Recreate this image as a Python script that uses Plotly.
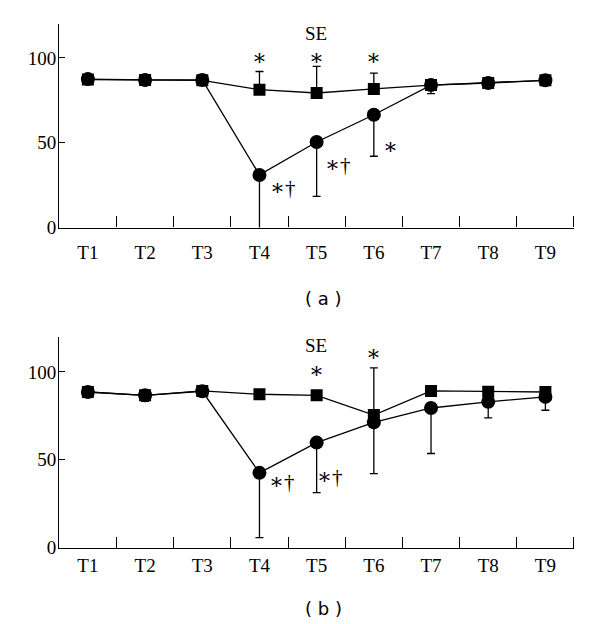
import plotly.graph_objects as go

# ---------------- data ----------------
categories = ["T1", "T2", "T3", "T4", "T5", "T6", "T7", "T8", "T9"]
xpos = [1, 2, 3, 4, 5, 6, 7, 8, 9]

# panel (a)
a_square = [87.2, 87.0, 86.8, 81.3, 79.3, 81.7, 84.0, 85.2, 86.8]
a_square_err_up = [0, 0, 0, 10.7, 15.7, 9.3, 0, 0, 0]
a_circle = [87.5, 87.0, 87.0, 31.0, 50.4, 66.5, 84.0, 85.2, 86.8]
a_circle_err_down = [0, 3.0, 0, 35.3, 32.1, 24.5, 5.0, 0, 0]

# panel (b)
b_square = [88.6, 86.7, 89.2, 87.3, 86.7, 75.5, 89.2, 88.8, 88.6]
b_square_err_up = [0, 0, 0, 0, 0, 26.8, 0, 0, 0]
b_circle = [88.6, 86.7, 89.0, 42.6, 59.8, 71.3, 79.5, 83.0, 85.8]
b_circle_err_down = [0, 3.4, 0, 36.9, 28.5, 29.2, 25.9, 9.1, 7.6]

# significance marks: (x, y, dagger?)
a_marks_x = [4, 5, 6, 4.40, 5.36, 6.30]
a_marks_y = [100, 100, 100, 23.5, 37.0, 47.8]
a_marks_dagger = [False, False, False, True, True, False]
b_marks_x = [5, 6, 4.38, 5.22]
b_marks_y = [100.6, 110.4, 37.6, 40.4]
b_marks_dagger = [False, False, True, True]

y_ticks = [0, 50, 100]
minor_ticks = [1.5, 2.5, 3.5, 4.5, 5.5, 6.5, 7.5, 8.5, 9.5]

SERIF = "Liberation Serif"
LW = 1.3

fig = go.Figure()


def add_panel(xa, ya, sq, sq_up, ci, ci_dn):
    fig.add_trace(go.Scatter(
        x=xpos, y=sq, mode="lines+markers", xaxis=xa, yaxis=ya,
        line=dict(color="black", width=LW),
        marker=dict(symbol="square", size=12, color="black"),
        error_y=dict(type="data", symmetric=False, array=sq_up,
                     arrayminus=[0] * len(sq), color="black",
                     thickness=LW, width=4),
        showlegend=False, hoverinfo="skip"))
    fig.add_trace(go.Scatter(
        x=xpos, y=ci, mode="lines+markers", xaxis=xa, yaxis=ya,
        line=dict(color="black", width=LW),
        marker=dict(symbol="circle", size=14, color="black"),
        error_y=dict(type="data", symmetric=False, array=[0] * len(ci),
                     arrayminus=ci_dn, color="black",
                     thickness=LW, width=4),
        showlegend=False, hoverinfo="skip"))


add_panel("x", "y", a_square, a_square_err_up, a_circle, a_circle_err_down)
add_panel("x2", "y2", b_square, b_square_err_up, b_circle, b_circle_err_down)

STAR = "<span style='font-family:DejaVu Serif;font-size:22px'>∗</span>"
for xs, ys, ds, xr, yr in [(a_marks_x, a_marks_y, a_marks_dagger, "x", "y"),
                           (b_marks_x, b_marks_y, b_marks_dagger, "x2", "y2")]:
    for x, y, d in zip(xs, ys, ds):
        fig.add_annotation(x=x, y=y, xref=xr, yref=yr,
                           text=STAR + ("†" if d else ""),
                           showarrow=False, xanchor="center",
                           yanchor="middle",
                           font=dict(family=SERIF, size=21, color="black"))

XD = [59.3 / 600, 574 / 600]


def xaxis_cfg(anchor, standoff):
    return dict(
        domain=XD, anchor=anchor, range=[0.5, 9.5001], automargin=False,
        tickmode="array", tickvals=xpos, ticktext=categories, ticks="",
        tickfont=dict(family=SERIF, size=19, color="black"),
        ticklabelstandoff=standoff,
        showline=True, linecolor="black", linewidth=LW,
        showgrid=False, zeroline=False,
        minor=dict(tickmode="array", tickvals=minor_ticks, ticks="inside",
                   ticklen=11, tickwidth=LW, tickcolor="black",
                   showgrid=False),
    )


def yaxis_cfg(anchor, domain):
    return dict(
        domain=domain, anchor=anchor, range=[0, 120], automargin=False,
        tickmode="array", tickvals=y_ticks, ticks="inside", ticklen=6,
        tickwidth=LW, tickcolor="black",
        tickfont=dict(family=SERIF, size=19, color="black"),
        ticklabelstandoff=-2,
        showline=True, linecolor="black", linewidth=LW,
        showgrid=False, zeroline=False,
    )


fig.update_layout(
    width=600, height=624,
    margin=dict(l=0, r=0, t=0, b=0, autoexpand=False),
    paper_bgcolor="white", plot_bgcolor="white",
    xaxis=xaxis_cfg("y", 8),
    yaxis=yaxis_cfg("x", [1 - 227.5 / 624, 1 - 24 / 624]),
    xaxis2=xaxis_cfg("y2", 0),
    yaxis2=yaxis_cfg("x2", [1 - 547.7 / 624, 1 - 336.8 / 624]),
)

# panel titles and captions
for y_px, txt in [(33.3, "SE"), (345, "SE")]:
    fig.add_annotation(x=316 / 600, y=1 - y_px / 624, xref="paper",
                       yref="paper", text=txt, showarrow=False,
                       xanchor="center", yanchor="middle",
                       font=dict(family=SERIF, size=19, color="black"))
for y_px, txt in [(298, "( a )"), (608, "( b )")]:
    fig.add_annotation(x=323 / 600, y=1 - y_px / 624, xref="paper",
                       yref="paper", text=txt, showarrow=False,
                       xanchor="center", yanchor="middle",
                       font=dict(family="DejaVu Sans", size=18,
                                 color="black"))

fig.write_html("out.html",
               config={"displayModeBar": False},
               post_script="document.body.style.margin='0px';"
                           "document.body.style.overflow='hidden';")
